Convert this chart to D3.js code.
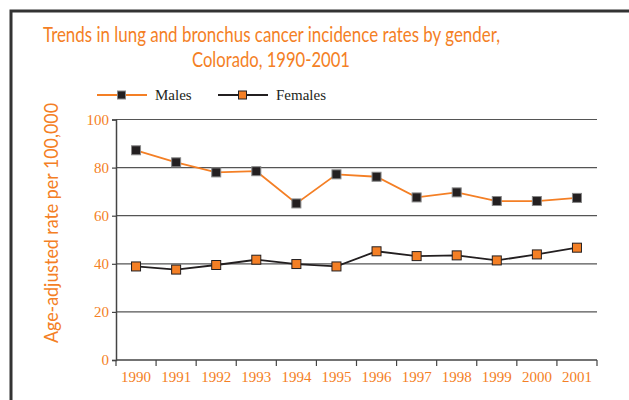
<!DOCTYPE html>
<html>
  <head>
    <meta charset="utf-8">
    <title>Lung and bronchus cancer incidence, Colorado</title>
    <script src="https://d3js.org/d3.v7.min.js"></script>
    <style>
      body { margin: 0; background: #fff; }
      svg { display: block; }
    </style>
  </head>
  <body>
    <div id="chart"></div>
    <script>
      // Values
      var years = ["1990", "1991", "1992", "1993", "1994", "1995", "1996", "1997", "1998", "1999", "2000", "2001"];
      var males = [87.2, 82.2, 78.0, 78.5, 65.1, 77.2, 76.2, 67.6, 69.7, 66.1, 66.1, 67.4];
      var females = [38.9, 37.6, 39.5, 41.7, 39.9, 38.9, 45.2, 43.2, 43.5, 41.4, 43.9, 46.7];
      var yTicks = [0, 20, 40, 60, 80, 100];

      var orange = "#f47f25";
      var dark = "#231f20";
      var width = 629, height = 400;

      var svg = d3.select("#chart").append("svg")
          .attr("width", width).attr("height", height);

      // outer frame, runs off the right and bottom edges
      svg.append("rect")
          .attr("x", 11).attr("y", 11)
          .attr("width", 640).attr("height", 420)
          .attr("fill", "none")
          .attr("stroke", "#333")
          .attr("stroke-width", 3);

      // title (squeezed to the width of the narrow original face)
      var title = svg.append("g")
          .attr("fill", orange)
          .style("font-family", "Lato, 'Open Sans', sans-serif")
          .style("font-size", "21.5px");
      title.append("text").attr("x", 43).attr("y", 42)
          .attr("textLength", 457).attr("lengthAdjust", "spacingAndGlyphs")
          .text("Trends in lung and bronchus cancer incidence rates by gender,");
      title.append("text").attr("x", 192).attr("y", 67)
          .attr("textLength", 158).attr("lengthAdjust", "spacingAndGlyphs")
          .text("Colorado, 1990-2001");

      var plotL = 116, plotR = 597, plotT = 119.5, plotB = 360;

      var x = d3.scaleBand().domain(years).range([plotL, plotR]);
      var y = d3.scaleLinear().domain([0, 100]).range([plotB, plotT]);

      // horizontal grid
      svg.append("g").selectAll("line")
          .data(yTicks.filter(function (d) { return d > 0; }))
          .join("line")
          .attr("x1", plotL).attr("x2", plotR)
          .attr("y1", function (d) { return y(d); })
          .attr("y2", function (d) { return y(d); })
          .attr("stroke", "#555")
          .attr("stroke-width", 1.2);

      // y axis
      var yAxis = svg.append("g")
          .attr("transform", "translate(" + plotL + ",0)")
          .call(d3.axisLeft(y).tickValues(yTicks).tickSize(4).tickPadding(3));
      yAxis.select(".domain").attr("stroke", "#444").attr("stroke-width", 1.5);
      yAxis.selectAll(".tick line").attr("stroke", "#444").attr("stroke-width", 1.2);
      yAxis.selectAll(".tick text")
          .attr("fill", orange)
          .style("font-family", "'Liberation Serif', 'Times New Roman', serif")
          .style("font-size", "15px");

      // x axis: ticks on the band edges, labels at band centres
      var xAxis = svg.append("g")
          .attr("transform", "translate(0," + plotB + ")");
      xAxis.append("line")
          .attr("x1", plotL).attr("x2", plotR)
          .attr("stroke", "#444").attr("stroke-width", 1.5);
      var edges = years.map(function (d) { return x(d); }).concat([x(years[years.length - 1]) + x.bandwidth()]);
      xAxis.selectAll(".edge").data(edges).join("line")
          .attr("class", "edge")
          .attr("x1", function (d) { return d; }).attr("x2", function (d) { return d; })
          .attr("y1", 0).attr("y2", 6)
          .attr("stroke", "#444").attr("stroke-width", 1.2);
      xAxis.selectAll("text").data(years).join("text")
          .attr("x", function (d) { return x(d) + x.bandwidth() / 2; })
          .attr("y", 22)
          .attr("text-anchor", "middle")
          .attr("fill", orange)
          .style("font-family", "'Liberation Serif', 'Times New Roman', serif")
          .style("font-size", "15px")
          .text(function (d) { return d; });

      // y axis title
      svg.append("text")
          .attr("transform", "translate(58,223) rotate(-90)")
          .attr("text-anchor", "middle")
          .attr("fill", orange)
          .style("font-family", "Lato, 'Open Sans', sans-serif")
          .style("font-size", "20px")
          .attr("textLength", 240).attr("lengthAdjust", "spacingAndGlyphs")
          .text("Age-adjusted rate per 100,000");

      var cx = function (d, i) { return x(years[i]) + x.bandwidth() / 2; };
      var line = d3.line().x(cx).y(function (d) { return y(d); });

      function series(values, lineColor, markFill, markStroke) {
        svg.append("path")
            .datum(values)
            .attr("d", line)
            .attr("fill", "none")
            .attr("stroke", lineColor)
            .attr("stroke-width", 1.8);
        svg.append("g").selectAll("rect").data(values).join("rect")
            .attr("x", function (d, i) { return cx(d, i) - 4.5; })
            .attr("y", function (d) { return y(d) - 4.5; })
            .attr("width", 9).attr("height", 9)
            .attr("fill", markFill)
            .attr("stroke", markStroke)
            .attr("stroke-width", 1);
      }

      series(males, orange, dark, "#888");
      series(females, dark, orange, dark);

      // legend
      var legend = [
        { name: "Males", x: 97, line: orange, fill: dark, stroke: "#888" },
        { name: "Females", x: 218, line: dark, fill: orange, stroke: dark }
      ];
      var lg = svg.append("g").selectAll("g").data(legend).join("g")
          .attr("transform", function (d) { return "translate(" + d.x + ",95)"; });
      lg.append("line")
          .attr("x1", 0).attr("x2", 50)
          .attr("stroke", function (d) { return d.line; })
          .attr("stroke-width", 1.8);
      lg.append("rect")
          .attr("x", 20.5).attr("y", -4).attr("width", 8).attr("height", 8)
          .attr("fill", function (d) { return d.fill; })
          .attr("stroke", function (d) { return d.stroke; })
          .attr("stroke-width", 1);
      lg.append("text")
          .attr("x", 58).attr("y", 5)
          .attr("fill", dark)
          .style("font-family", "'Liberation Serif', 'Times New Roman', serif")
          .style("font-size", "15px")
          .text(function (d) { return d.name; });
    </script>
  </body>
</html>
